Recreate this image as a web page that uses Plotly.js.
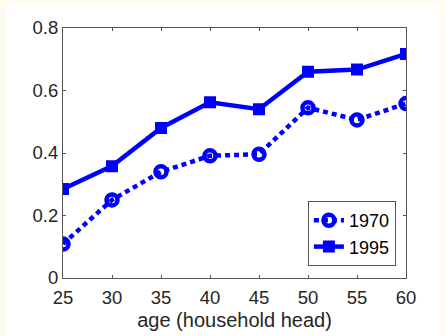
<!DOCTYPE html>
<html><head><meta charset="utf-8">
<script src="https://cdn.plot.ly/plotly-3.0.1.min.js"></script>
<style>
html,body{margin:0;padding:0;background:#fffbee;width:445px;height:336px;overflow:hidden;}
#plot{position:absolute;left:6px;top:4px;width:434px;height:332px;background:#fff;}
</style></head><body>
<div id="plot"></div>
<script>
const ages = [25, 30, 35, 40, 45, 50, 55, 60];
const y1970 = [0.109, 0.25, 0.34, 0.391, 0.396, 0.545, 0.506, 0.558];
const y1995 = [0.285, 0.358, 0.48, 0.562, 0.54, 0.66, 0.667, 0.717];
const xTicks = [25, 30, 35, 40, 45, 50, 55, 60];
const yTicks = [0, 0.2, 0.4, 0.6, 0.8];
const yTickText = ['0', '0.2', '0.4', '0.6', '0.8'];

const FONT = 'Liberation Sans, Arial, sans-serif';
const traces = [
  {x: ages, y: y1970, name: '1970', mode: 'lines+markers', type: 'scatter',
   line: {color: '#0000ff', width: 4.5, dash: '5px,4px'},
   marker: {symbol: 'circle-open', size: 11, color: '#0000ff', line: {width: 4.5, color: '#0000ff'}}},
  {x: ages, y: y1995, name: '1995', mode: 'lines+markers', type: 'scatter',
   line: {color: '#0000ff', width: 4.5},
   marker: {symbol: 'square', size: 10, color: '#0000ff', line: {width: 2, color: '#0000ff'}}}
];
const axisCommon = {showline: true, linecolor: '#555', linewidth: 1, mirror: 'ticks',
  ticks: 'inside', ticklen: 3, tickcolor: '#555', showgrid: false, zeroline: false,
  tickfont: {family: FONT, size: 18.5, color: '#262626'}};
const layout = {
  width: 434, height: 332,
  margin: {l: 57, r: 34, t: 24, b: 58},
  paper_bgcolor: '#ffffff', plot_bgcolor: '#ffffff',
  showlegend: true,
  legend: {x: 0.714, y: 0.048, xanchor: 'left', yanchor: 'bottom',
    bgcolor: '#ffffff', bordercolor: '#555', borderwidth: 1,
    font: {family: FONT, size: 18, color: '#000'},
    itemwidth: 30, tracegroupgap: 0},
  xaxis: Object.assign({}, axisCommon, {range: [25, 60], tickvals: xTicks, ticktext: xTicks.map(String),
    ticklabelstandoff: 3,
    title: {text: 'age (household head)', standoff: 5, font: {family: FONT, size: 20, color: '#262626'}}}),
  yaxis: Object.assign({}, axisCommon, {range: [0, 0.8], tickvals: yTicks, ticktext: yTickText})
};
Plotly.newPlot('plot', traces, layout, {displayModeBar: false, staticPlot: true});
</script>
</body></html>
